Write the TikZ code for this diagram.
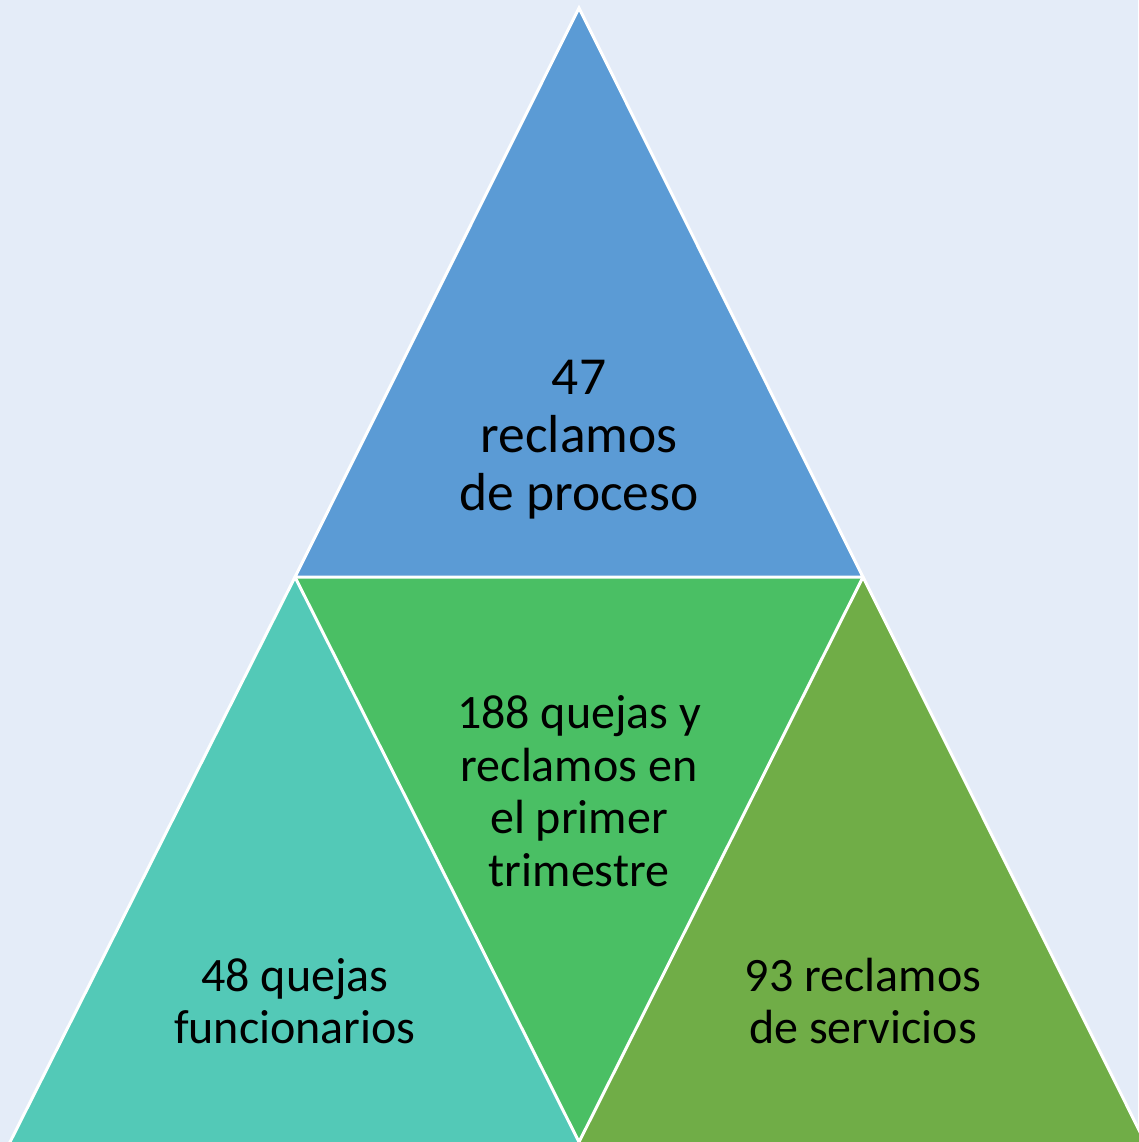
\documentclass[tikz,border=0pt]{standalone}
\usepackage{fontspec}
\setmainfont{Carlito}
\definecolor{bgc}{HTML}{E4ECF8}
\definecolor{topc}{HTML}{5B9BD5}
\definecolor{leftc}{HTML}{53C9B7}
\definecolor{midc}{HTML}{4ABF64}
\definecolor{rightc}{HTML}{70AD47}
\tikzset{
  tri/.style={draw=white, line width=3pt, line join=miter},
  bigtxt/.style={align=center, text=black, font=\fontsize{53.5}{58}\selectfont},
  smalltxt/.style={align=center, text=black, font=\fontsize{48}{52.5}\selectfont}
}
\begin{document}
\begin{tikzpicture}[x=1pt,y=-1pt]
\fill[bgc] (0,0) rectangle (1138,1142);
\useasboundingbox (0,0) rectangle (1138,1142);
\coordinate (apex) at (579,8);
\coordinate (bl) at (295,577);
\coordinate (br) at (863,577);
\coordinate (bot) at (579,1142);
\fill[topc] (apex) -- (bl) -- (br) -- cycle;
\fill[leftc] (bl) -- (5,1152) -- (585,1152) -- cycle;
\fill[rightc] (br) -- (573,1152) -- (1150,1152) -- cycle;
\fill[midc] (bl) -- (br) -- (bot) -- cycle;
\draw[tri] (apex) -- (bl) -- (br) -- cycle;
\draw[tri] (bl) -- (5,1152);
\draw[tri] (br) -- (1150,1152);
\draw[tri] (bl) -- (bot) -- (br);
\draw[tri] (bot) -- (579,1152);
\node[bigtxt] (t1) at (579,440) {47\\reclamos\\de proceso};
\node[smalltxt] (t2) at (579,791) {188 quejas y\\reclamos en\\el primer\\trimestre};
\node[smalltxt] (t3) at (295,1001) {48 quejas\\funcionarios};
\node[smalltxt] (t4) at (863,1001) {93 reclamos\\de servicios};
\end{tikzpicture}
\end{document}
